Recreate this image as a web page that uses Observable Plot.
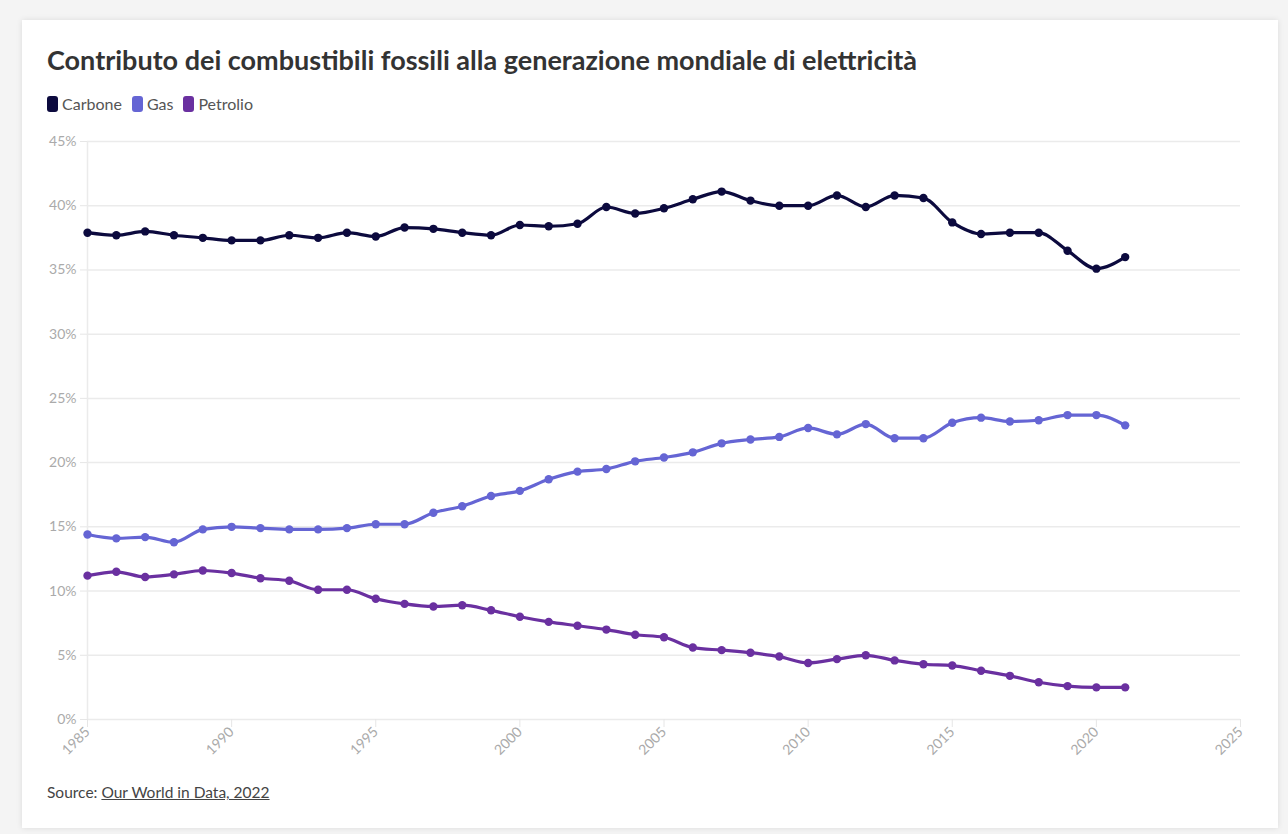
<!DOCTYPE html>
<html>
<head>
<meta charset="utf-8">
<script src="https://cdn.jsdelivr.net/npm/d3@7"></script>
<script src="https://cdn.jsdelivr.net/npm/@observablehq/plot@0.6"></script>
<style>
  html, body { margin: 0; padding: 0; background: #f4f4f4; }
  body { width: 1288px; height: 834px; overflow: hidden; font-family: Lato, "Noto Sans", sans-serif; }
  .card { position: absolute; left: 22px; top: 20px; width: 1256px; height: 808px; background: #fff;
          box-shadow: 0 0 6px rgba(0,0,0,0.10); }
  .title { position: absolute; left: 25px; top: 23px; font-size: 27px; font-weight: 700; color: #333; white-space: nowrap; }
  .legend { position: absolute; left: 25px; top: 74px; font-size: 16px; color: #555; display: flex; align-items: center; }
  .legend span.sw { display: inline-block; width: 11px; height: 16px; border-radius: 3px; margin-right: 4px; }
  .legend span.item { display: inline-flex; align-items: center; margin-right: 10px; }
  #chart { position: absolute; left: 25px; top: 105px; }
  .source { position: absolute; left: 25px; top: 763px; font-size: 15.5px; color: #444; }
  .source a { color: #444; text-decoration: underline; }
</style>
</head>
<body>
<div class="card">
  <div class="title">Contributo dei combustibili fossili alla generazione mondiale di elettricità</div>
  <div class="legend" id="legend"></div>
  <div id="chart"></div>
  <div class="source">Source: <a>Our World in Data, 2022</a></div>
</div>
<script>
const years = d3.range(1985, 2022);
const seriesNames = ["Carbone", "Gas", "Petrolio"];
const seriesColors = ["#0c0a3e", "#6565d4", "#6a30a0"];
const carbone = [37.9, 37.7, 38.0, 37.7, 37.5, 37.3, 37.3, 37.7, 37.5, 37.9, 37.6, 38.3, 38.2, 37.9, 37.7, 38.5, 38.4, 38.6, 39.9, 39.4, 39.8, 40.5, 41.1, 40.4, 40.0, 40.0, 40.8, 39.9, 40.8, 40.6, 38.7, 37.8, 37.9, 37.9, 36.5, 35.1, 36.0];
const gas = [14.4, 14.1, 14.2, 13.8, 14.8, 15.0, 14.9, 14.8, 14.8, 14.9, 15.2, 15.2, 16.1, 16.6, 17.4, 17.8, 18.7, 19.3, 19.5, 20.1, 20.4, 20.8, 21.5, 21.8, 22.0, 22.7, 22.2, 23.0, 21.9, 21.9, 23.1, 23.5, 23.2, 23.3, 23.7, 23.7, 22.9];
const petrolio = [11.2, 11.5, 11.1, 11.3, 11.6, 11.4, 11.0, 10.8, 10.1, 10.1, 9.4, 9.0, 8.8, 8.9, 8.5, 8.0, 7.6, 7.3, 7.0, 6.6, 6.4, 5.6, 5.4, 5.2, 4.9, 4.4, 4.7, 5.0, 4.6, 4.3, 4.2, 3.8, 3.4, 2.9, 2.6, 2.5, 2.5];
const xTicks = [1985, 1990, 1995, 2000, 2005, 2010, 2015, 2020, 2025];
const yTicks = [0, 5, 10, 15, 20, 25, 30, 35, 40, 45];

const allValues = [carbone, gas, petrolio];
const data = [];
seriesNames.forEach((name, i) => {
  years.forEach((yr, j) => data.push({series: name, year: yr, value: allValues[i][j]}));
});

// legend
const lg = document.getElementById("legend");
seriesNames.forEach((n, i) => {
  const it = document.createElement("span");
  it.className = "item";
  it.innerHTML = `<span class="sw" style="background:${seriesColors[i]}"></span>${n}`;
  lg.appendChild(it);
});

const chart = Plot.plot({
  width: 1210,
  height: 644,
  marginLeft: 40,
  marginRight: 17,
  marginTop: 16,
  marginBottom: 50,
  style: {fontFamily: "Lato, 'Noto Sans', sans-serif", fontSize: "14px", color: "#aaa", background: "transparent"},
  x: {domain: [1985, 2025], ticks: xTicks, tickFormat: d => String(d), label: null, tickRotate: -45, tickSize: 8},
  y: {domain: [0, 45], ticks: yTicks, tickFormat: d => d + "%", label: null, tickSize: 6},
  color: {domain: seriesNames, range: seriesColors},
  marks: [
    Plot.ruleY(yTicks, {stroke: "#ebebeb", strokeWidth: 1.5}),
    Plot.ruleX([1985], {stroke: "#ebebeb", strokeWidth: 1.5}),
    Plot.axisY({ticks: yTicks, tickFormat: d => d + "%", stroke: "#e6e6e6", tickSize: 7, tickPadding: 4, fill: "#aaaaaa", fontSize: 14}),
    Plot.axisX({ticks: xTicks, tickFormat: d => String(d), tickRotate: -45, stroke: "#e6e6e6", tickSize: 8, tickPadding: 2, fill: "#aaaaaa", fontSize: 14}),
    Plot.line(data, {x: "year", y: "value", z: "series", stroke: "series", strokeWidth: 3.2, curve: "monotone-x"}),
    Plot.dot(data, {x: "year", y: "value", fill: "series", r: 4.2})
  ]
});
document.getElementById("chart").appendChild(chart);
</script>
</body>
</html>
